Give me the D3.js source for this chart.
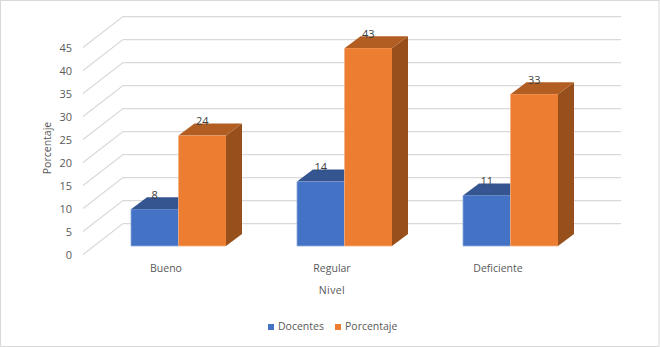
<!DOCTYPE html>
<html>
<head>
<meta charset="utf-8">
<script src="https://cdn.jsdelivr.net/npm/d3@7"></script>
<style>
  html, body { margin: 0; padding: 0; background: #fff; }
  svg { display: block; }
  text { font-family: "Open Sans", sans-serif; font-size: 10.5px; fill: #595959; }
</style>
</head>
<body>
<div id="chart"></div>
<script>
var categories = ["Bueno", "Regular", "Deficiente"]
var seriesNames = ["Docentes", "Porcentaje"]
var docentes = [8, 14, 11]
var porcentaje = [24, 43, 33]
var yTicks = [0, 5, 10, 15, 20, 25, 30, 35, 40, 45]

var WIDTH = 660, HEIGHT = 347
// 3d offsets: whole floor depth, gap before the bar, bar depth
var DEPTH = {x: 40, y: -31}
var GAP = {x: 12.5, y: -8.5}
var BAR = {x: 16, y: -12}

var colors = {
  Docentes: {front: "#4472C4", top: "#34558F", side: "#2F5597", edge: "#8FAADC"},
  Porcentaje: {front: "#ED7D31", top: "#B25E22", side: "#97501C", edge: "#F4B183"}
}

var svg = d3.select("#chart").append("svg")
    .attr("width", WIDTH)
    .attr("height", HEIGHT)

svg.append("rect")
    .attr("x", 0.5)
    .attr("y", 0.5)
    .attr("width", WIDTH - 1.5)
    .attr("height", HEIGHT - 1)
    .attr("fill", "#fff")
    .attr("stroke", "#d9d9d9")

var x = d3.scaleBand().domain(categories).range([83, 581])
var xSeries = d3.scaleBand().domain(seriesNames).range([0, 95])
var y = d3.scaleLinear().domain([0, 45]).range([254.5, 47.5])

// back wall and side wall gridlines
var grid = svg.append("g")
yTicks.forEach(function(t) {
  grid.append("path")
      .attr("d", d3.line()([
        [x.range()[0], y(t)],
        [x.range()[0] + DEPTH.x, y(t) + DEPTH.y],
        [x.range()[1] + DEPTH.x, y(t) + DEPTH.y]
      ]))
      .attr("fill", "none")
      .attr("stroke", "#d9d9d9")
      .attr("stroke-width", 1.25)
})

var yAxis = d3.axisLeft(y).tickValues(yTicks).tickSize(0).tickPadding(11)
svg.append("g")
    .attr("transform", "translate(83,0)")
    .call(yAxis)
    .call(function(g) { g.select(".domain").remove() })
    .selectAll("text")
    .attr("fill", "#595959")
    .style("font-size", "11px")

var xAxis = d3.axisBottom(x).tickSize(0).tickPadding(5)
svg.append("g")
    .attr("transform", "translate(0,260)")
    .call(xAxis)
    .call(function(g) { g.select(".domain").remove() })
    .selectAll("text")
    .attr("fill", "#595959")
    .style("font-size", "10.5px")

// bars, drawn left to right so the orange hides the blue side face
var values = [docentes, porcentaje]
var labels = svg.append("g")
categories.forEach(function(cat, c) {
  seriesNames.forEach(function(name, s) {
    var v = values[s][c]
    var col = colors[name]
    var x0 = x(cat) + x.bandwidth() / 2 - 47.5 + GAP.x + xSeries(name)
    var x1 = x0 + xSeries.bandwidth()
    var yBase = y(0) + GAP.y
    var yTop = y(v) + GAP.y

    svg.append("path")
        .attr("d", d3.line()([[x1, yTop], [x1 + BAR.x, yTop + BAR.y], [x1 + BAR.x, yBase + BAR.y], [x1, yBase]]) + "Z")
        .attr("fill", col.side)
    svg.append("path")
        .attr("d", d3.line()([[x0, yTop], [x0 + BAR.x, yTop + BAR.y], [x1 + BAR.x, yTop + BAR.y], [x1, yTop]]) + "Z")
        .attr("fill", col.top)
    svg.append("rect")
        .attr("x", x0)
        .attr("y", yTop)
        .attr("width", x1 - x0)
        .attr("height", yBase - yTop)
        .attr("fill", col.front)
    svg.append("path")
        .attr("d", d3.line()([[x0, yTop], [x0, yBase], [x1, yBase]]))
        .attr("fill", "none")
        .attr("stroke", col.edge)
        .attr("stroke-width", 0.8)

    labels.append("text")
        .attr("x", (x0 + x1) / 2)
        .attr("y", yTop - 14)
        .attr("dy", "0.35em")
        .attr("text-anchor", "middle")
        .style("fill", "#404040")
        .style("font-size", "11px")
        .text(v)
  })
})
// labels go on top of all the bars
labels.raise()

svg.append("text")
    .attr("x", 332)
    .attr("y", 290)
    .attr("dy", "0.35em")
    .attr("text-anchor", "middle")
    .style("letter-spacing", "0.4px")
    .text("Nivel")

svg.append("text")
    .attr("transform", "translate(47,148) rotate(-90)")
    .attr("dy", "0.35em")
    .attr("text-anchor", "middle")
    .text("Porcentaje")

var legendX = [268, 335]
seriesNames.forEach(function(name, i) {
  svg.append("rect")
      .attr("x", legendX[i])
      .attr("y", 324)
      .attr("width", 6)
      .attr("height", 6)
      .attr("fill", colors[name].front)
  svg.append("text")
      .attr("x", legendX[i] + 10)
      .attr("y", 326.5)
      .attr("dy", "0.35em")
      .text(name)
})
</script>
</body>
</html>
